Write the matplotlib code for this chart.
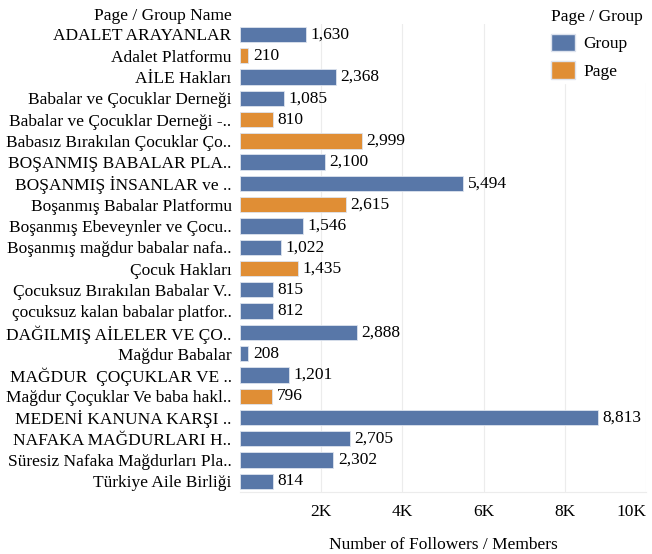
import matplotlib.pyplot as plt
from matplotlib.patches import Patch

# names, follower counts and type of each page / group
names = [
    'ADALET ARAYANLAR', 'Adalet Platformu', 'AİLE Hakları',
    'Babalar ve Çocuklar Derneği', 'Babalar ve Çocuklar Derneği -..',
    'Babasız Bırakılan Çocuklar Ço..', 'BOŞANMIŞ BABALAR PLA..',
    'BOŞANMIŞ İNSANLAR ve ..', 'Boşanmış Babalar Platformu',
    'Boşanmış Ebeveynler ve Çocu..', 'Boşanmış mağdur babalar nafa..',
    'Çocuk Hakları', 'Çocuksuz Bırakılan Babalar V..',
    'çocuksuz kalan babalar platfor..', 'DAĞILMIŞ AİLELER VE ÇO..',
    'Mağdur Babalar', 'MAĞDUR  ÇOÇUKLAR VE ..',
    'Mağdur Çoçuklar Ve baba hakl..', 'MEDENİ KANUNA KARŞI ..',
    'NAFAKA MAĞDURLARI H..', 'Süresiz Nafaka Mağdurları Pla..',
    'Türkiye Aile Birliği',
]
values = [1630, 210, 2368, 1085, 810, 2999, 2100, 5494, 2615, 1546, 1022,
          1435, 815, 812, 2888, 208, 1201, 796, 8813, 2705, 2302, 814]
kinds = ['Group', 'Page', 'Group', 'Group', 'Page', 'Page', 'Group', 'Group',
         'Page', 'Group', 'Group', 'Page', 'Group', 'Group', 'Group', 'Group',
         'Group', 'Page', 'Group', 'Group', 'Group', 'Group']
ticks = [2000, 4000, 6000, 8000, 10000]
tick_labels = ['2K', '4K', '6K', '8K', '10K']

colors = {'Group': '#5877a8', 'Page': '#e08e35'}

plt.rcParams['font.family'] = ['Liberation Serif', 'DejaVu Serif']
fs = 12.5
plt.rcParams['font.size'] = fs

fig = plt.figure(figsize=(6.52, 5.54), dpi=100)
ax = fig.add_axes([0.368, 0.112, 0.623, 0.845])

ypos = list(range(len(names)))
bar_colors = [colors[k] for k in kinds]
ax.barh(ypos, values, height=0.72, color=bar_colors, edgecolor='#dde3ee',
        linewidth=0.6, zorder=3)

for y, v in zip(ypos, values):
    ax.text(v + 110, y, f'{v:,}', va='center', ha='left', fontsize=fs, zorder=4)

ax.set_yticks(ypos)
ax.set_yticklabels(names)
ax.set_ylim(len(names) - 0.5, -0.5)
ax.set_xlim(0, 10000)
ax.set_xticks(ticks)
ax.set_xticklabels(tick_labels)
ax.get_xticklabels()[-1].set_horizontalalignment('right')
ax.tick_params(axis='both', length=0)
ax.tick_params(axis='x', pad=9)
ax.tick_params(axis='y', pad=6)
ax.grid(axis='x', color='#ececec', linewidth=0.8, zorder=0)
for side in ['top', 'right', 'left']:
    ax.spines[side].set_visible(False)
ax.spines['bottom'].set_color('#ececec')
ax.set_xlabel('Number of Followers / Members', labelpad=12)

fig.text(0.356, 0.972, 'Page / Group Name', ha='right', va='center', fontsize=fs)

handles = [Patch(facecolor=colors['Group'], edgecolor='#dde3ee', label='Group'),
           Patch(facecolor=colors['Page'], edgecolor='#dde3ee', label='Page')]
leg = fig.legend(handles=handles, title='Page / Group', loc='upper left',
                 bbox_to_anchor=(0.826, 1.006), frameon=True, fontsize=fs,
                 title_fontsize=fs, handlelength=1.4, handleheight=1.2,
                 handletextpad=0.5, borderpad=0.2, labelspacing=0.5)
leg._legend_box.align = 'left'
leg.get_frame().set_edgecolor('white')
leg.get_frame().set_facecolor('white')
leg.get_frame().set_alpha(1)

fig.savefig('out.png', dpi=100)
